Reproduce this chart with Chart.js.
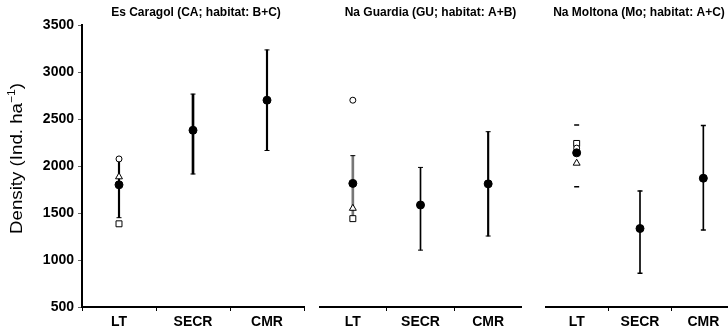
<!DOCTYPE html>
<html lang="en">
<head>
<meta charset="UTF-8">
<title>Density estimates by method</title>
<script src="https://cdn.jsdelivr.net/npm/chart.js@4.4.1/dist/chart.umd.min.js"></script>
<style>
    body { margin: 0; background: #fff; }
    #wrap { position: relative; width: 728px; height: 333px; overflow: hidden; }
    canvas { position: absolute; top: 0; }
</style>
</head>
<body>
<div id="wrap">
    <canvas id="ca" width="306" height="333" style="left:0px"></canvas>
    <canvas id="gu" width="203" height="333" style="left:319px"></canvas>
    <canvas id="mo" width="190" height="333" style="left:545px"></canvas>
</div>
<script>
const methods = ['LT', 'SECR', 'CMR'];
const densityTicks = [500, 1000, 1500, 2000, 2500, 3000, 3500];

// Es Caragol
const caMean = [1800, 2380, 2700];
const caLow = [1450, 1915, 2165];
const caHigh = [2080, 2765, 3235];
const caCircle = [2075, null, null];
const caTriangle = [1885, null, null];
const caSquare = [1385, null, null];

// Na Guardia
const guMean = [1815, 1585, 1810];
const guLow = [1440, 1105, 1255];
const guHigh = [2110, 1985, 2365];
const guCircle = [2700, null, null];
const guTriangle = [1550, null, null];
const guSquare = [1440, null, null];

// Na Moltona
const moMean = [2140, 1335, 1870];
const moLow = [1780, 860, 1320];
const moHigh = [2435, 1735, 2430];
const moCircle = [2190, null, null];
const moTriangle = [2030, null, null];
const moSquare = [2240, null, null];

const FONT = '"Liberation Sans", Arial, sans-serif';

// title drawn above each panel, centred on the plot area
const panelTitle = {
    id: 'panelTitle',
    afterDraw(chart, args, opts) {
        const ctx = chart.ctx;
        const a = chart.chartArea;
        ctx.save();
        ctx.font = 'bold 12px ' + FONT;
        ctx.fillStyle = '#000';
        ctx.textAlign = 'center';
        ctx.textBaseline = 'middle';
        ctx.fillText(opts.text, (a.left + a.right) / 2 + (opts.dx || 0), 13);
        ctx.restore();
    }
};

// y axis title with the superscript unit
const densityTitle = {
    id: 'densityTitle',
    afterDraw(chart) {
        const ctx = chart.ctx;
        const main = 'Density (Ind. ha';
        const sup = '\u22121';
        ctx.save();
        ctx.fillStyle = '#000';
        ctx.font = '17px ' + FONT;
        const w1 = ctx.measureText(main).width;
        const w3 = ctx.measureText(')').width;
        ctx.font = '11px ' + FONT;
        const w2 = ctx.measureText(sup).width;
        const total = w1 + w2 + w3;
        ctx.translate(22, 158.5);
        ctx.rotate(-Math.PI / 2);
        ctx.scale(1.1, 1);
        ctx.textBaseline = 'alphabetic';
        let x = -total / 2;
        ctx.font = '17px ' + FONT;
        ctx.fillText(main, x, 0);
        x += w1;
        ctx.font = '11px ' + FONT;
        ctx.fillText(sup, x, -7);
        x += w2;
        ctx.font = '17px ' + FONT;
        ctx.fillText(')', x, 0);
        ctx.restore();
    }
};

function pointSet(data, style, radius, fill, order, width) {
    return {
        type: 'line',
        data: data,
        showLine: false,
        pointStyle: style,
        pointRadius: radius,
        pointBorderWidth: width || 1,
        pointBorderColor: '#000',
        pointBackgroundColor: fill,
        order: order
    };
}

function makePanel(id, cfg) {
    const stems = cfg.stems.map((s, i) => ({
        type: 'bar',
        data: methods.map((m, j) => (j === i && s.w > 0) ? [cfg.low[j], cfg.high[j]] : null),
        barThickness: s.w || 1,
        backgroundColor: s.c,
        grouped: false,
        order: 10
    }));

    const datasets = stems.concat([
        pointSet(cfg.low, 'line', 2.5, '#000', 6, cfg.capWidth),
        pointSet(cfg.high, 'line', 2.5, '#000', 6, cfg.capWidth),
        pointSet(cfg.square, 'rect', 4.2, '#fff', 4),
        pointSet(cfg.triangle, 'triangle', 4, '#fff', 3),
        pointSet(cfg.circle, 'circle', 3, '#fff', 2),
        pointSet(cfg.mean, 'circle', 4, '#000', 0)
    ]);

    return new Chart(document.getElementById(id), {
        type: 'bar',
        data: { labels: methods, datasets: datasets },
        plugins: cfg.yAxis ? [panelTitle, densityTitle] : [panelTitle],
        options: {
            responsive: false,
            animation: false,
            events: [],
            layout: { autoPadding: false, padding: { top: 25, left: 0, right: cfg.padRight || 0, bottom: 0 } },
            plugins: {
                legend: { display: false },
                tooltip: { enabled: false },
                panelTitle: { text: cfg.title, dx: cfg.dx }
            },
            scales: {
                x: {
                    offset: true,
                    afterFit: s => { s.height = 26; },
                    border: { display: true, color: '#000', width: 2 },
                    grid: { offset: true, drawOnChartArea: false, drawTicks: true, tickLength: 4, color: '#000', lineWidth: 1 },
                    ticks: {
                        color: '#000', padding: 3, maxRotation: 0, minRotation: 0, autoSkip: false,
                        font: { family: FONT, size: 14, weight: 'bold' }
                    }
                },
                y: {
                    display: cfg.yAxis,
                    min: densityTicks[0],
                    max: densityTicks[densityTicks.length - 1],
                    afterBuildTicks: s => { s.ticks = densityTicks.map(v => ({ value: v })); },
                    afterFit: s => { s.width = cfg.yAxis ? 82 : 0; },
                    border: { display: true, color: '#000', width: 2 },
                    grid: { drawOnChartArea: false, drawTicks: true, tickLength: 4, color: '#666', lineWidth: 1 },
                    ticks: {
                        color: '#000', padding: 4,
                        callback: v => String(v),
                        font: { family: FONT, size: 14, weight: 'bold' }
                    }
                }
            }
        }
    });
}

makePanel('ca', {
    title: 'Es Caragol (CA; habitat: B+C)', dx: 3, yAxis: true, padRight: 2,
    mean: caMean, low: caLow, high: caHigh,
    circle: caCircle, triangle: caTriangle, square: caSquare,
    stems: [{ w: 1.5, c: '#000' }, { w: 2, c: '#000' }, { w: 1.5, c: '#000' }]
});

makePanel('gu', {
    title: 'Na Guardia (GU; habitat: A+B)', dx: 10, yAxis: false,
    mean: guMean, low: guLow, high: guHigh,
    circle: guCircle, triangle: guTriangle, square: guSquare,
    stems: [{ w: 2, c: '#777' }, { w: 1, c: '#000' }, { w: 1.5, c: '#000' }]
});

makePanel('mo', {
    title: 'Na Moltona (Mo; habitat: A+C)', dx: -1, yAxis: false, capWidth: 1.5,
    mean: moMean, low: moLow, high: moHigh,
    circle: moCircle, triangle: moTriangle, square: moSquare,
    stems: [{ w: 0, c: '#000' }, { w: 1, c: '#000' }, { w: 1, c: '#000' }]
});
</script>
</body>
</html>
